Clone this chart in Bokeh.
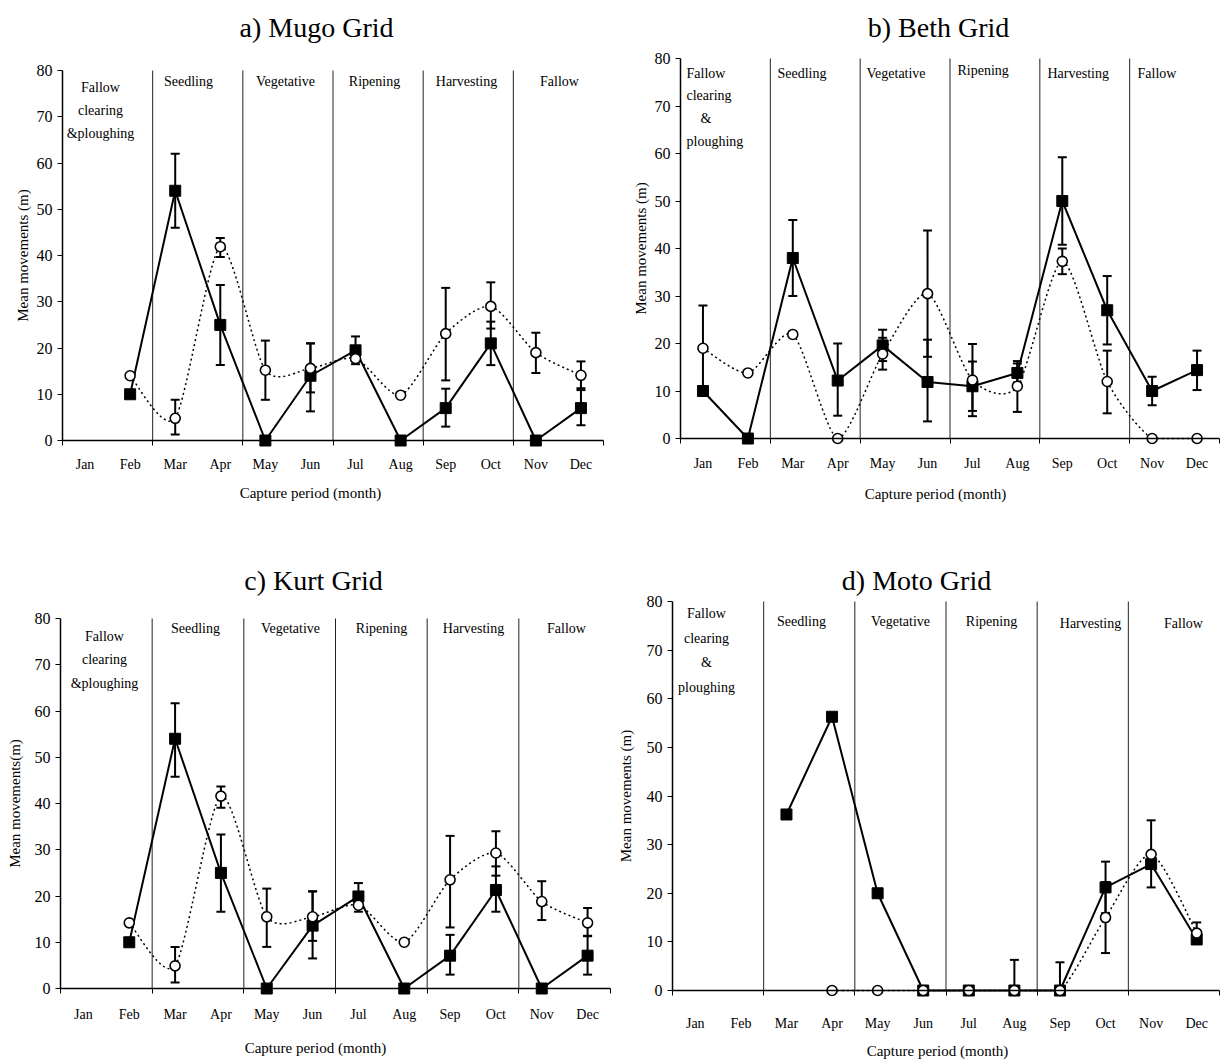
import math
from bokeh.plotting import figure
from bokeh.models import Range1d, FixedTicker, ColumnDataSource, Whisker, TeeHead, Label
from bokeh.layouts import row, column
from bokeh.embed import file_html
from bokeh.resources import INLINE
from bokeh.core.properties import value

nan = float("nan")
FONT = "Liberation Serif"

# ---------------- data ----------------
months = ["Jan", "Feb", "Mar", "Apr", "May", "Jun", "Jul", "Aug", "Sep", "Oct", "Nov", "Dec"]
phases_3 = ["Fallow\nclearing\n&ploughing", "Seedling", "Vegetative", "Ripening", "Harvesting", "Fallow"]
phases_4 = ["Fallow\nclearing\n&\nploughing", "Seedling", "Vegetative", "Ripening", "Harvesting", "Fallow"]
titles = ["a) Mugo Grid", "b) Beth Grid", "c) Kurt Grid", "d) Moto Grid"]
x_label = "Capture period (month)"
y_labels = ["Mean movements (m)", "Mean movements (m)", "Mean movements(m)", "Mean movements (m)"]
y_ticks = [0, 10, 20, 30, 40, 50, 60, 70, 80]

# a) Mugo
a_solid    = [nan, 10, 54, 25, 0, 14, 19.5, 0, 7, 21, 0, 7]
a_solid_lo = [nan, nan, 46, 16.3, nan, 6.3, 16.5, nan, 3, 16.3, nan, 3.3]
a_solid_hi = [nan, nan, 62, 33.6, nan, 21, 22.5, nan, 11.2, 25.7, nan, 10.9]
a_open     = [nan, 14, 4.8, 41.9, 15.2, 15.6, 17.7, 9.8, 23.1, 29, 19, 14.1]
a_open_lo  = [nan, nan, 1.3, 39.7, 8.8, 10.4, nan, nan, 13, 24.2, 14.6, 11.3]
a_open_hi  = [nan, nan, 8.8, 43.8, 21.6, 21, nan, nan, 33, 34.2, 23.3, 17.1]

# b) Beth
b_solid    = [10, 0, 38, 12.2, 19.6, 11.9, 11, 13.8, 50, 27, 10, 14.4]
b_solid_lo = [nan, nan, 30, 4.8, 16.3, 3.6, 5.8, 11.8, 40.8, 19.8, 7, 10.2]
b_solid_hi = [nan, nan, 46, 20, 22.9, 20.8, 16.2, 15.8, 59.2, 34.2, 13, 18.5]
b_open     = [19, 13.8, 21.9, 0, 17.8, 30.5, 12.3, 11, 37.3, 12, 0, 0]
b_open_lo  = [10, nan, nan, nan, 14.5, 17.2, 4.7, 5.6, 34.6, 5.3, nan, nan]
b_open_hi  = [28, nan, nan, nan, 21.2, 43.8, 19.9, 16.3, 40, 18.5, nan, nan]

# c) Kurt
c_solid    = [nan, 10, 54, 25, 0, 13.6, 19.9, 0, 7.1, 21.3, 0, 7.1]
c_solid_lo = [nan, nan, 45.8, 16.6, nan, 6.5, 16.6, nan, 3, 16.6, nan, 3]
c_solid_hi = [nan, nan, 61.7, 33.3, nan, 21, 22.8, nan, 11.6, 26.4, nan, 11.4]
c_open     = [nan, 14.2, 4.9, 41.6, 15.5, 15.5, 18, 10, 23.5, 29.3, 18.8, 14.2]
c_open_lo  = [nan, nan, 1.3, 39.1, 9, 10.3, nan, nan, 13.2, 24.4, 14.8, 11.3]
c_open_hi  = [nan, nan, 9, 43.7, 21.6, 21, nan, nan, 33, 34, 23.2, 17.4]

# d) Moto
d_solid    = [nan, nan, 36.2, 56.3, 20, 0, 0, 0, 0, 21.2, 26, 10.5]
d_solid_lo = [nan, nan, nan, nan, nan, nan, nan, nan, nan, 15.9, nan, nan]
d_solid_hi = [nan, nan, nan, nan, nan, nan, nan, nan, nan, 26.5, nan, nan]
d_open     = [nan, nan, nan, 0, 0, 0, 0, 0, 0, 15, 28, 11.8]
d_open_lo  = [nan, nan, nan, nan, nan, nan, nan, 0, 0, 7.7, 21.2, 9.6]
d_open_hi  = [nan, nan, nan, nan, nan, nan, nan, 6.3, 5.8, 22.3, 35, 14]

# ---------------- layout (page pixel targets) ----------------
layouts = [
    dict(fig=(0, 0, 608, 540), ax0=62, ax1=603, y80=70, y0=440, xstand=11,
         title=(316, 27), xlab=(310, 492), ylab=22,
         block=dict(xs=[100, 100, 100], ys=[87, 110, 133], align="center"),
         others=dict(xs=[188, 285, 374, 466, 559], ys=[81] * 5, align="center")),
    dict(fig=(608, 0, 620, 540), ax0=680, ax1=1219, y80=58, y0=438, xstand=12,
         title=(938, 27), xlab=(935, 493), ylab=640,
         block=dict(xs=[686, 686, 700, 686], ys=[73, 95, 118, 141], align="left"),
         others=dict(xs=[777, 866, 957, 1047, 1137], ys=[73, 73, 70, 73, 73], align="left")),
    dict(fig=(0, 540, 614, 522), ax0=60, ax1=610, y80=618, y0=988, xstand=13,
         title=(313, 580), xlab=(315, 1047), ylab=14,
         block=dict(xs=[104, 104, 104], ys=[636, 659, 683], align="center"),
         others=dict(xs=[195, 290, 381, 473, 566], ys=[628] * 5, align="center")),
    dict(fig=(614, 540, 614, 522), ax0=672, ax1=1219, y80=601, y0=990, xstand=20,
         title=(916, 580), xlab=(937, 1050), ylab=625,
         block=dict(xs=[706, 706, 706, 706], ys=[613, 638, 662, 687], align="center"),
         others=dict(xs=[801, 900, 991, 1090, 1183], ys=[621, 621, 621, 623, 623], align="center")),
]


def smooth_bezier(xs, ys):
    runs, cur = [], []
    for x, y in zip(xs, ys):
        if y is None or math.isnan(y):
            if cur:
                runs.append(cur)
                cur = []
        else:
            cur.append((x, y))
    if cur:
        runs.append(cur)
    d = dict(x0=[], y0=[], x1=[], y1=[], cx0=[], cy0=[], cx1=[], cy1=[])
    t = 1.0 / 8.0
    for r in runs:
        n = len(r)
        for i in range(n - 1):
            p0 = r[i - 1] if i > 0 else r[i]
            p1, p2 = r[i], r[i + 1]
            p3 = r[i + 2] if i + 2 < n else r[i + 1]
            d["x0"].append(p1[0]); d["y0"].append(p1[1])
            d["x1"].append(p2[0]); d["y1"].append(p2[1])
            d["cx0"].append(p1[0] + (p2[0] - p0[0]) * t)
            d["cy0"].append(max(0.0, p1[1] + (p2[1] - p0[1]) * t))
            d["cx1"].append(p2[0] - (p3[0] - p1[0]) * t)
            d["cy1"].append(max(0.0, p2[1] - (p3[1] - p1[1]) * t))
    return d


def add_whiskers(p, xs, lo, hi):
    idx = [i for i in range(len(xs)) if not math.isnan(lo[i])]
    if not idx:
        return
    src = ColumnDataSource(dict(x=[xs[i] for i in idx], lo=[lo[i] for i in idx], hi=[hi[i] for i in idx]))
    w = Whisker(base="x", lower="lo", upper="hi", source=src, line_color="black", line_width=2,
                upper_head=TeeHead(size=9, line_color="black", line_width=2),
                lower_head=TeeHead(size=9, line_color="black", line_width=2))
    p.add_layout(w)


def make_panel(k, phases, solid, s_lo, s_hi, opn, o_lo, o_hi):
    g = layouts[k]
    fx, fy, W, H = g["fig"]
    ax0, ax1, y80, y0 = g["ax0"], g["ax1"], g["y80"], g["y0"]
    n = len(months)
    fw = ax1 - ax0
    scale = (y0 - y80) / 80.0

    def dx(px):
        return 0.5 + (px - ax0) / fw * n

    def dy(py):
        return (y0 - py) / scale

    xs = list(range(1, n + 1))
    p = figure(frame_width=W, frame_height=H,
               x_range=Range1d(dx(fx), dx(fx + W)), y_range=Range1d(dy(fy + H), dy(fy)),
               min_border_left=0, min_border_right=0, min_border_top=0, min_border_bottom=0,
               output_backend="svg", toolbar_location=None)
    p.outline_line_color = None
    p.xgrid.visible = False
    p.ygrid.visible = False
    p.background_fill_color = "white"
    p.border_fill_color = "white"

    # phase boundaries (every 2 months)
    per = n // len(phases)
    bounds = [0.5 + per * j for j in range(1, len(phases))]
    p.segment(x0=bounds, y0=[0] * len(bounds), x1=bounds, y1=[80] * len(bounds),
              line_color="#222222", line_width=1)

    # phase labels
    blk = g["block"]
    lines = phases[0].split("\n")
    p.text(x=[dx(v) for v in blk["xs"]], y=[dy(v) for v in blk["ys"]], text=lines,
           text_font=value(FONT), text_font_size="14px", text_color="black",
           text_align=blk["align"], text_baseline="middle")
    oth = g["others"]
    p.text(x=[dx(v) for v in oth["xs"]], y=[dy(v) for v in oth["ys"]], text=phases[1:],
           text_font=value(FONT), text_font_size="14px", text_color="black",
           text_align=oth["align"], text_baseline="middle")

    # error bars
    add_whiskers(p, xs, s_lo, s_hi)
    add_whiskers(p, xs, o_lo, o_hi)

    # lines
    p.line(xs, solid, line_color="black", line_width=2)
    bz = smooth_bezier(xs, opn)
    p.bezier(source=ColumnDataSource(bz), x0="x0", y0="y0", x1="x1", y1="y1",
             cx0="cx0", cy0="cy0", cx1="cx1", cy1="cy1",
             line_color="black", line_width=1.5, line_dash="2 3")

    # markers
    p.scatter(xs, solid, marker="square", size=11, fill_color="black", line_color="black")
    p.scatter(xs, opn, marker="circle", size=10, fill_color="white", line_color="black", line_width=1.6)

    # axes (fixed inside the frame)
    xa = p.xaxis[0]
    xa.fixed_location = 0
    xa.bounds = (0.5, n + 0.5)
    xa.ticker = FixedTicker(ticks=xs, minor_ticks=[0.5 + per * j for j in range(len(phases) + 1)])
    xa.major_label_overrides = {x: m for x, m in zip(xs, months)}
    xa.major_tick_in = 0
    xa.major_tick_out = 0
    xa.minor_tick_in = 0
    xa.minor_tick_out = 5
    xa.minor_tick_line_color = "black"
    xa.axis_line_color = "black"
    xa.axis_line_width = 1.5
    xa.major_label_text_font = FONT
    xa.major_label_text_font_size = "14px"
    xa.major_label_text_color = "black"
    xa.major_label_standoff = g["xstand"]

    ya = p.yaxis[0]
    ya.fixed_location = 0.5
    ya.bounds = (0, 80)
    ya.ticker = FixedTicker(ticks=y_ticks, minor_ticks=[])
    ya.major_tick_in = 0
    ya.major_tick_out = 5
    ya.minor_tick_in = 0
    ya.minor_tick_out = 0
    ya.major_tick_line_color = "black"
    ya.axis_line_color = "black"
    ya.axis_line_width = 1.5
    ya.major_label_text_font = FONT
    ya.major_label_text_font_size = "16px"
    ya.major_label_text_color = "black"
    ya.major_label_standoff = 5

    # title and axis labels
    tx, ty = g["title"]
    p.add_layout(Label(x=dx(tx), y=dy(ty), text=titles[k], text_font=FONT, text_font_size="28px",
                       text_color="black", text_align="center", text_baseline="middle"))
    lx, ly = g["xlab"]
    p.add_layout(Label(x=dx(lx), y=dy(ly), text=x_label, text_font=FONT, text_font_size="15px",
                       text_color="black", text_align="center", text_baseline="middle"))
    p.add_layout(Label(x=dx(g["ylab"]), y=40, text=y_labels[k], text_font=FONT, text_font_size="15px",
                       text_color="black", text_align="center", text_baseline="middle", angle=math.pi / 2))
    return p


pa = make_panel(0, phases_3, a_solid, a_solid_lo, a_solid_hi, a_open, a_open_lo, a_open_hi)
pb = make_panel(1, phases_4, b_solid, b_solid_lo, b_solid_hi, b_open, b_open_lo, b_open_hi)
pc = make_panel(2, phases_3, c_solid, c_solid_lo, c_solid_hi, c_open, c_open_lo, c_open_hi)
pd = make_panel(3, phases_4, d_solid, d_solid_lo, d_solid_hi, d_open, d_open_lo, d_open_hi)

layout = column(row(pa, pb), row(pc, pd))
open("out.html", "w").write(file_html(layout, INLINE))
